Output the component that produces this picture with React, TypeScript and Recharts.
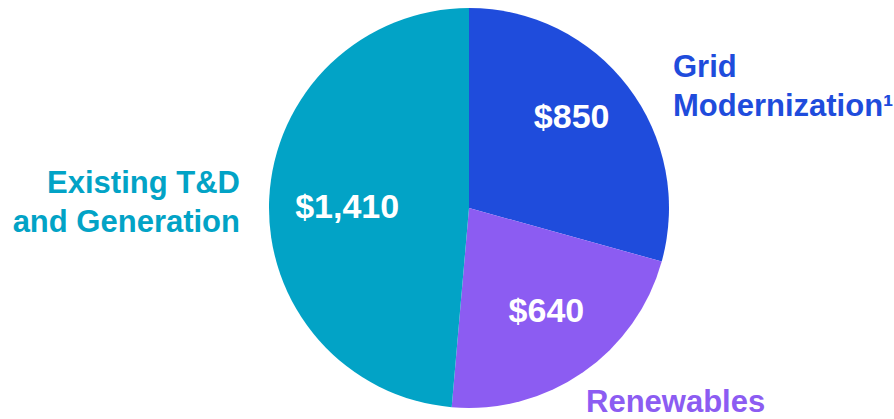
import { PieChart, Pie, Cell } from 'recharts';

// Spend by category ($M), clockwise from 12 o'clock
const categories = ['Grid Modernization', 'Renewables', 'Existing T&D and Generation'];
const values = [850, 640, 1410];
const labelLines = [['Grid', 'Modernization¹'], ['Renewables'], ['Existing T&D', 'and Generation']];
const colors = ['#1F4CDC', '#8C5CF2', '#02A3C6'];

const data = categories.map((name, i) => ({ name, value: values[i] }));

// where the category names sit, relative to the pie centre
const outsideLayout = [
  { dx: 204, dy: -131, anchor: 'start' },
  { dx: 117, dy: 204, anchor: 'start' },
  { dx: -229, dy: -15, anchor: 'end' },
];
// small hand nudges for the values inside the slices
const insideNudge = [
  { dx: -4, dy: -11 },
  { dx: 1, dy: -8 },
  { dx: 12, dy: 4 },
];

const RADIAN = Math.PI / 180;
const FONT = '"Liberation Sans", Arial, sans-serif';

function renderLabel(props: any) {
  const { cx, cy, midAngle, outerRadius, value, index } = props;
  const r = outerRadius * 0.67;
  const x = cx + r * Math.cos(-midAngle * RADIAN) + insideNudge[index].dx;
  const y = cy + r * Math.sin(-midAngle * RADIAN) + insideNudge[index].dy;
  const out = outsideLayout[index];
  return (
    <g>
      <text
        x={x}
        y={y}
        fill="#ffffff"
        textAnchor="middle"
        dominantBaseline="central"
        fontFamily={FONT}
        fontWeight="bold"
        fontSize={34}
      >
        {'$' + value.toLocaleString('en-US')}
      </text>
      {labelLines[index].map((line, j) => (
        <text
          key={j}
          x={cx + out.dx}
          y={cy + out.dy + j * 39}
          fill={colors[index]}
          textAnchor={out.anchor}
          fontFamily={FONT}
          fontWeight="bold"
          fontSize={31}
        >
          {line}
        </text>
      ))}
    </g>
  );
}

export default function App() {
  return (
    <div style={{ position: 'absolute', left: 0, top: 0, width: 894, height: 419, background: '#fff' }}>
      <PieChart width={894} height={419} margin={{ top: 0, right: 0, bottom: 0, left: 0 }}>
        <Pie
          data={data}
          dataKey="value"
          nameKey="name"
          cx={469}
          cy={208}
          outerRadius={200}
          startAngle={90}
          endAngle={-270}
          stroke="none"
          label={renderLabel}
          labelLine={false}
          isAnimationActive={false}
        >
          {data.map((d, i) => (
            <Cell key={d.name} fill={colors[i]} />
          ))}
        </Pie>
      </PieChart>
    </div>
  );
}
